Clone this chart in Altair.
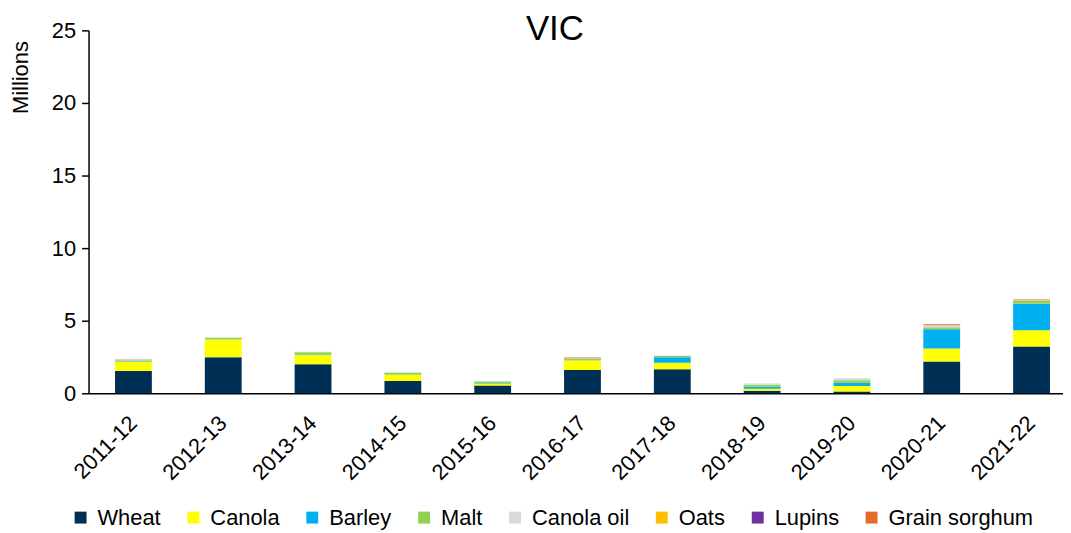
import altair as alt
import pandas as pd

years = ["2011-12", "2012-13", "2013-14", "2014-15", "2015-16", "2016-17",
         "2017-18", "2018-19", "2019-20", "2020-21", "2021-22"]
series = ["Wheat", "Canola", "Barley", "Malt", "Canola oil", "Oats", "Lupins", "Grain sorghum"]
colors = ["#002F56", "#FFFF00", "#00B0F0", "#92D050", "#D9D9D9", "#FFC000", "#7030A0", "#E36C2A"]

wheat = [1.53, 2.49, 2.00, 0.84, 0.53, 1.60, 1.66, 0.18, 0.13, 2.19, 3.22]
canola = [0.64, 1.23, 0.67, 0.44, 0.13, 0.68, 0.44, 0.14, 0.37, 0.89, 1.12]
barley = [0.03, 0.02, 0.04, 0.02, 0.03, 0.02, 0.39, 0.13, 0.22, 1.34, 1.82]
malt = [0.08, 0.08, 0.12, 0.12, 0.13, 0.07, 0.08, 0.14, 0.18, 0.13, 0.22]
canola_oil = [0.04, 0.02, 0.03, 0.02, 0.03, 0.05, 0.03, 0.09, 0.13, 0.13, 0.03]
oats = [0.00, 0.00, 0.00, 0.00, 0.00, 0.00, 0.00, 0.00, 0.00, 0.00, 0.00]
lupins = [0.00, 0.00, 0.00, 0.00, 0.00, 0.00, 0.00, 0.00, 0.00, 0.00, 0.00]
sorghum = [0.03, 0.00, 0.00, 0.00, 0.00, 0.05, 0.00, 0.00, 0.00, 0.07, 0.05]

values = [wheat, canola, barley, malt, canola_oil, oats, lupins, sorghum]
rows = []
for si, (s, vals) in enumerate(zip(series, values)):
    for y, v in zip(years, vals):
        rows.append({"year": y, "series": s, "value": v, "order": si})
df = pd.DataFrame(rows)

FONT = "Liberation Sans"

chart = alt.Chart(df).mark_bar().encode(
    x=alt.X("year:N", sort=years,
            scale=alt.Scale(paddingInner=0.59, paddingOuter=0.22, align=0.67),
            axis=alt.Axis(title=None, labelAngle=-45, labelAlign="right",
                          labelBaseline="middle", labelPadding=26, ticks=False,
                          labelFontSize=22, labelColor="#000000",
                          domainColor="#000000", domainWidth=1.5, grid=False)),
    y=alt.Y("value:Q", stack="zero",
            scale=alt.Scale(domain=[0, 25], nice=False),
            axis=alt.Axis(title="Millions", values=[0, 5, 10, 15, 20, 25],
                          labelFontSize=22, labelColor="#000000", labelPadding=6,
                          tickSize=7, tickColor="#000000", tickWidth=1.5,
                          domainColor="#000000", domainWidth=1.5, grid=False,
                          titleFontSize=22, titleFontWeight="normal",
                          titleColor="#000000", titleX=-68, titleY=47,
                          titleAlign="center", titleBaseline="middle", titleAngle=270)),
    color=alt.Color("series:N", sort=series,
                    scale=alt.Scale(domain=series, range=colors),
                    legend=alt.Legend(title=None, orient="none", direction="horizontal",
                                      legendX=-19, legendY=479, symbolType="square",
                                      symbolSize=144, symbolStrokeWidth=0,
                                      labelFontSize=22, labelColor="#000000",
                                      labelOffset=6, columnPadding=21.5, padding=0,
                                      columns=8, labelLimit=300)),
    order=alt.Order("order:Q", sort="ascending"),
).properties(
    width=980, height=365,
    title=alt.TitleParams("VIC", fontSize=35, fontWeight="normal", font=FONT,
                          color="#000000", anchor="middle", dx=-21, dy=56,
                          baseline="alphabetic", offset=0),
    autosize=alt.AutoSizeParams(type="none"),
    padding={"left": 81, "top": 21, "right": 0, "bottom": 139},
).configure(font=FONT).configure_view(stroke=None)

chart.save("out.html", embed_options={"renderer": "svg", "actions": False})
